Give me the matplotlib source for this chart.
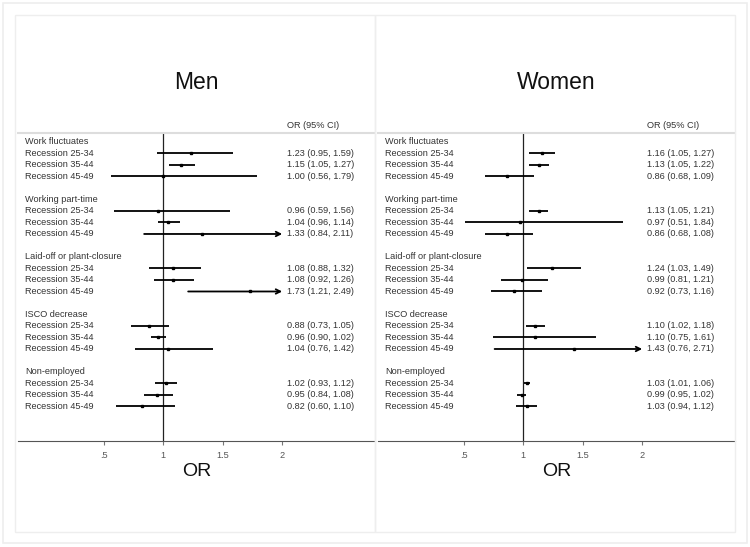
import matplotlib.pyplot as plt
from matplotlib.patches import Rectangle
from matplotlib.transforms import blended_transform_factory

plt.rcParams['font.family'] = ['Liberation Sans', 'DejaVu Sans']

# data
outcomes = ["Work fluctuates", "Working part-time", "Laid-off or plant-closure",
            "ISCO decrease", "Non-employed"]
cohorts = ["Recession 25-34", "Recession 35-44", "Recession 45-49"]

men_or = [1.23, 1.15, 1.00, 0.96, 1.04, 1.33, 1.08, 1.08, 1.73,
          0.88, 0.96, 1.04, 1.02, 0.95, 0.82]
men_lo = [0.95, 1.05, 0.56, 0.59, 0.96, 0.84, 0.88, 0.92, 1.21,
          0.73, 0.90, 0.76, 0.93, 0.84, 0.60]
men_hi = [1.59, 1.27, 1.79, 1.56, 1.14, 2.11, 1.32, 1.26, 2.49,
          1.05, 1.02, 1.42, 1.12, 1.08, 1.10]

women_or = [1.16, 1.13, 0.86, 1.13, 0.97, 0.86, 1.24, 0.99, 0.92,
            1.10, 1.10, 1.43, 1.03, 0.99, 1.03]
women_lo = [1.05, 1.05, 0.68, 1.05, 0.51, 0.68, 1.03, 0.81, 0.73,
            1.02, 0.75, 0.76, 1.01, 0.95, 0.94]
women_hi = [1.27, 1.22, 1.09, 1.21, 1.84, 1.08, 1.49, 1.21, 1.16,
            1.18, 1.61, 2.71, 1.06, 1.02, 1.12]

xticks = [0.5, 1, 1.5, 2]
xticklabels = [".5", "1", "1.5", "2"]
cap = 2.0

W, H = 750, 547
fig = plt.figure(figsize=(7.5, 5.47), dpi=100)

# faint frames
fig.patches.append(Rectangle((3 / W, 4 / H), 744 / W, 540 / H, transform=fig.transFigure,
                             fill=False, ec="#eeeeee", lw=1.2))
for x0 in (15, 375):
    fig.patches.append(Rectangle((x0 / W, 15 / H), 360 / W, 517 / H, transform=fig.transFigure,
                                 fill=False, ec="#eeeeee", lw=1.0))

txt_col = "#333333"
fs = 6.6


def panel(x0, title, est, lo, hi):
    ax = fig.add_axes([x0 / W, (H - 441) / H, 357 / W, (441 - 133) / H])
    ax.set_xlim(-0.22, 2.78)
    ax.set_ylim(26.0, -0.78)
    for s in ("left", "right"):
        ax.spines[s].set_visible(False)
    ax.spines["top"].set_color("#dddddd")
    ax.spines["top"].set_linewidth(1.5)
    ax.spines["bottom"].set_color("#555555")
    ax.spines["bottom"].set_linewidth(0.8)
    ax.set_yticks([])
    ax.set_xticks(xticks)
    ax.set_xticklabels(xticklabels)
    ax.tick_params(axis="x", length=3, width=0.8, color="#777777",
                   labelsize=fs, labelcolor="#555555", pad=4)
    ax.set_xlabel("OR", fontsize=14, color="#111111", labelpad=2)
    ax.axvline(1, color="#222222", lw=0.9, zorder=1)

    tr = blended_transform_factory(ax.transAxes, ax.transData)
    lx = 7 / 357
    ex = (287 - 18) / 357
    ax.text(ex, -1.4, "OR (95% CI)", transform=tr, fontsize=fs, color=txt_col,
            va="center", clip_on=False)
    ax.text(0.5, -5.2, title, transform=tr, fontsize=16.5, color="#111111",
            ha="center", va="center", clip_on=False)

    i = 0
    for g, name in enumerate(outcomes):
        base = g * 5
        ax.text(lx, base, name, transform=tr, fontsize=fs, color=txt_col, va="center")
        for k, c in enumerate(cohorts):
            y = base + k + 1
            ax.text(lx, y, c, transform=tr, fontsize=fs, color=txt_col, va="center")
            ax.text(ex, y, f"{est[i]:.2f} ({lo[i]:.2f}, {hi[i]:.2f})", transform=tr,
                    fontsize=fs, color=txt_col, va="center")
            if hi[i] > cap:
                ax.annotate("", xy=(cap, y), xytext=(lo[i], y),
                            arrowprops=dict(arrowstyle="->", color="black", lw=1.3,
                                            shrinkA=0, shrinkB=0, mutation_scale=8))
            else:
                ax.plot([lo[i], hi[i]], [y, y], color="black", lw=1.3,
                        solid_capstyle="butt")
            ax.plot(est[i], y, "s", color="black", ms=2.0)
            i += 1
    return ax


panel(18, "Men", men_or, men_lo, men_hi)
panel(378, "Women", women_or, women_lo, women_hi)

fig.savefig("out.png", dpi=100)
